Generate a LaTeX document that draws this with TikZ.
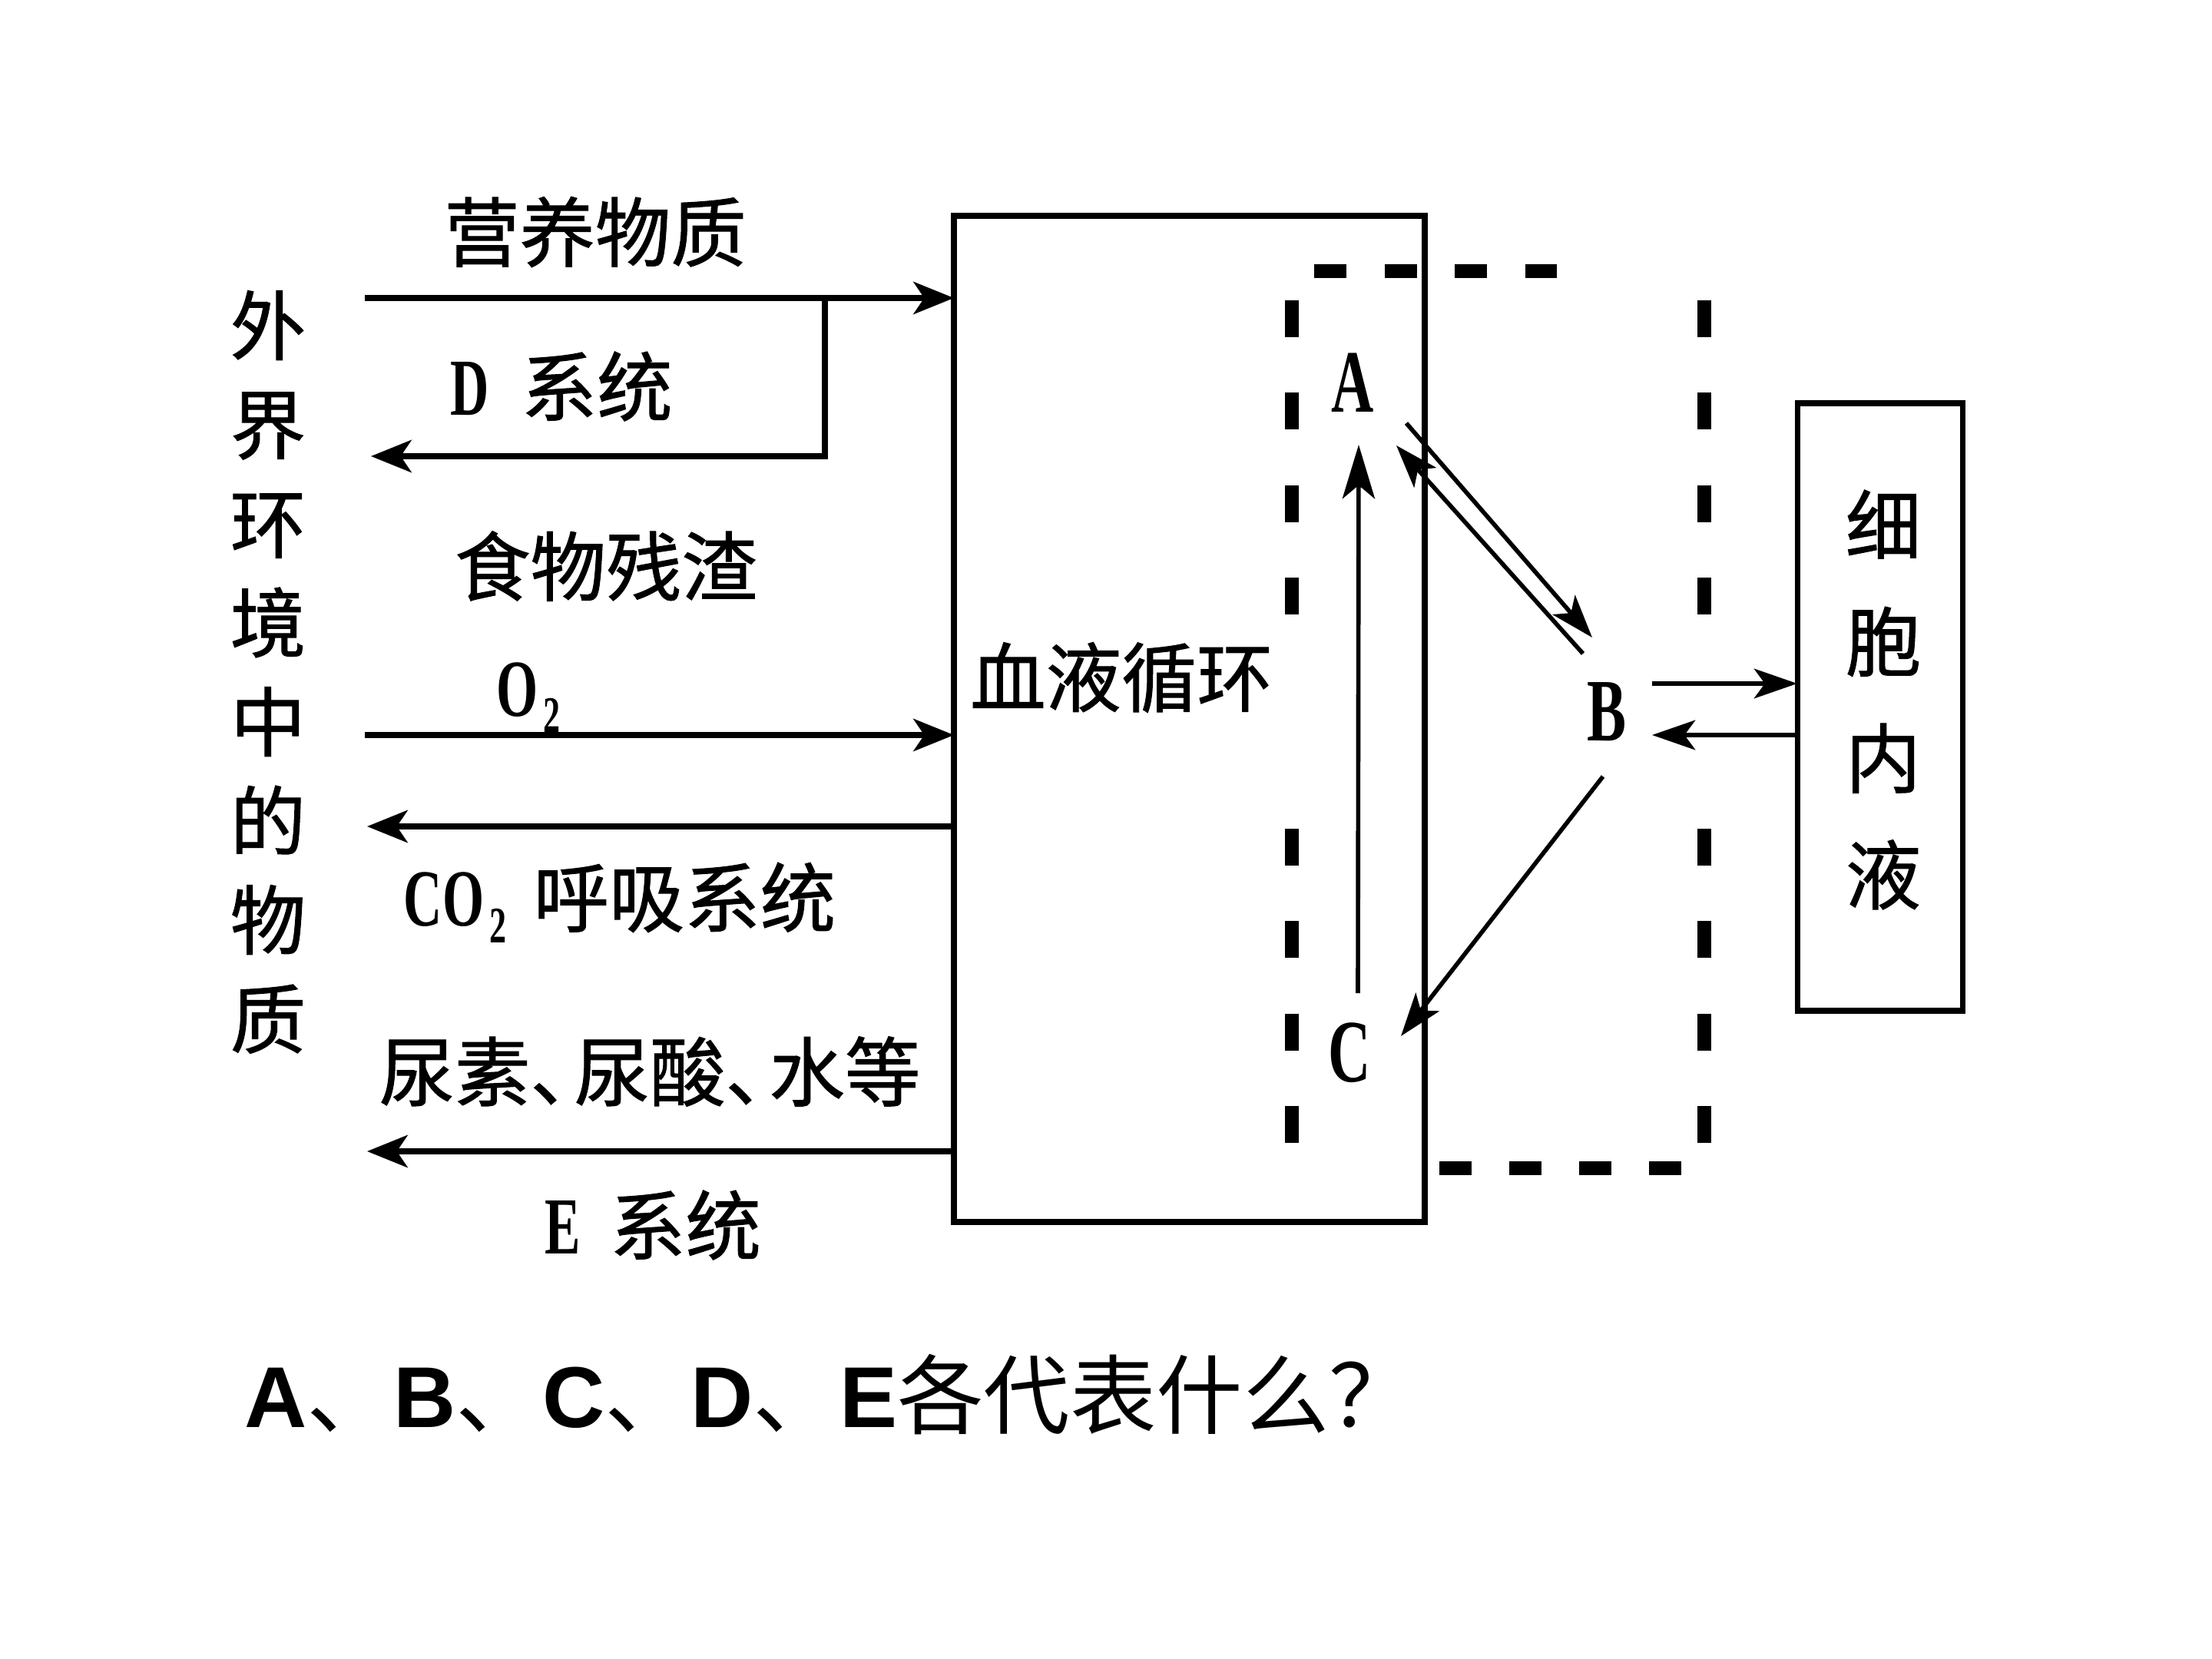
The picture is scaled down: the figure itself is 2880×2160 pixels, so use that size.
\documentclass[tikz,border=0pt]{standalone}
\usepackage{fontspec}
\usetikzlibrary{arrows.meta,calc}
\newfontfamily\cjk[FakeBold=1]{Noto Sans CJK SC}
\newfontfamily\cjkq{Noto Sans CJK SC}
\newfontfamily\latn[FakeStretch=0.66]{Liberation Serif Bold}
\newfontfamily\qsans{Liberation Sans}
\begin{document}
\begin{tikzpicture}[x=0.1mm,y=-0.1mm,
  lbl/.style={inner sep=0,font=\cjk\fontsize{28}{28}\selectfont},
  ltr/.style={inner sep=0,font=\latn\fontsize{33}{33}\selectfont},
  box/.style={draw,line width=2pt,inner sep=0,outer sep=0},
  arr/.style={line width=2pt,-{Stealth[length=15pt,width=12pt,inset=4pt]}},
  arrs/.style={line width=1.6pt,-{Stealth[length=16pt,width=11pt,inset=4pt]}},
  dsh/.style={line width=5pt},
]
\useasboundingbox (0,0) rectangle (2880,2160);
\fill[white] (0,0) rectangle (2880,2160);

% boxes
\node[box,minimum width=61.3mm,minimum height=131mm] (blood) at (1548.5,936) {};
\node[box,minimum width=21.5mm,minimum height=79.1mm] (cell) at (2447.5,920.5) {};
\node[inner sep=0,align=center,font=\cjk\fontsize{28}{43.2}\selectfont] (celltxt) at (2452,911) {细\\胞\\内\\液};
\node[inner sep=0,align=center,font=\cjk\fontsize{28}{36.7}\selectfont] (env) at (349,875) {外\\界\\环\\境\\中\\的\\物\\质};
\node[lbl] (bloodtxt) at (1460,882) {血液循环};

% left arrows
\coordinate (in1) at (475,388);
\draw[arr] (in1) -- (in1 -| blood.west);
\coordinate (dj) at (1074,388);
\coordinate (dout) at (483,594);
\draw[arr] (dj) |- (dout);
\coordinate (o2) at (475,957);
\draw[arr] (o2) -- (o2 -| blood.west);
\coordinate (co2) at (478,1076);
\draw[arr] (co2 -| blood.west) -- (co2);
\coordinate (eo) at (478,1499);
\draw[arr] (eo -| blood.west) -- (eo);

% left labels
\node[lbl] (t1) at (775,302) {营养物质};
\node[lbl] (t2) at (731,503) {{\latn\fontsize{30}{30}\selectfont D}\hspace{12pt}系统};
\node[lbl] (t3) at (789,737) {食物残渣};
\node[lbl] (t4) at (688,908) {{\latn\fontsize{30}{30}\selectfont O\hspace{2pt}\raisebox{-6pt}{\fontsize{19}{19}\selectfont 2}}};
\node[lbl] (t5) at (807,1175) {{\latn\fontsize{30}{30}\selectfont CO\hspace{2pt}\raisebox{-6pt}{\fontsize{19}{19}\selectfont 2}}\hspace{10pt}呼吸系统};
\node[lbl] (t6) at (846,1395) {尿素、\kern-0.42em 尿酸、\kern-0.42em 水等};
\node[lbl] (t7) at (850,1595) {{\latn\fontsize{30}{30}\selectfont E}\hspace{11pt}系统};

% dashed box
\draw[dsh,dash pattern=on 4.2mm off 4.97mm] (1711,353) -- (2027,353);
\draw[dsh,dash pattern=on 4.2mm off 4.9mm] (1874,1521) -- (2189,1521);
\foreach \x in {1682,2219} {
  \draw[dsh,dash pattern=on 4.8mm off 7.23mm] (\x,391) -- (\x,800);
  \draw[dsh,dash pattern=on 4.8mm off 7.23mm] (\x,1079) -- (\x,1488);
}

% A B C
\node[ltr] (A) at (1761,498) {A};
\node[ltr] (B) at (2092,927) {B};
\node[ltr] (C) at (1757,1371) {C};

\draw[line width=1.6pt,-{Stealth[length=20pt,width=12pt,inset=5pt]}] ($(C)+(11,-78)$) -- ($(A)+(8,81)$);
\draw[arrs] ($(A)+(70,53)$) -- ($(B)+(-19,-97)$);
\draw[arrs] ($(B)+(-31,-76)$) -- ($(A)+(57,82)$);
\draw[arrs] ($(B)+(-5,84)$) -- ($(C)+(67,-22)$);
\coordinate (bo) at ($(B)+(59,-37)$);
\draw[arrs] (bo) -- (bo -| cell.west);
\coordinate (bi) at ($(B)+(59,30)$);
\draw[arrs] (bi -| cell.west) -- (bi);

% question
\node[inner sep=0,anchor=base west,font=\fontsize{32}{32}\selectfont] (q) at (318,1858) {{\qsans\bfseries A}{\cjkq 、}{\qsans\bfseries B}{\cjkq 、}{\qsans\bfseries C}{\cjkq 、}{\qsans\bfseries D}{\cjkq 、}{\qsans\bfseries E}{\cjkq 各代表什么？}};
\end{tikzpicture}
\end{document}
